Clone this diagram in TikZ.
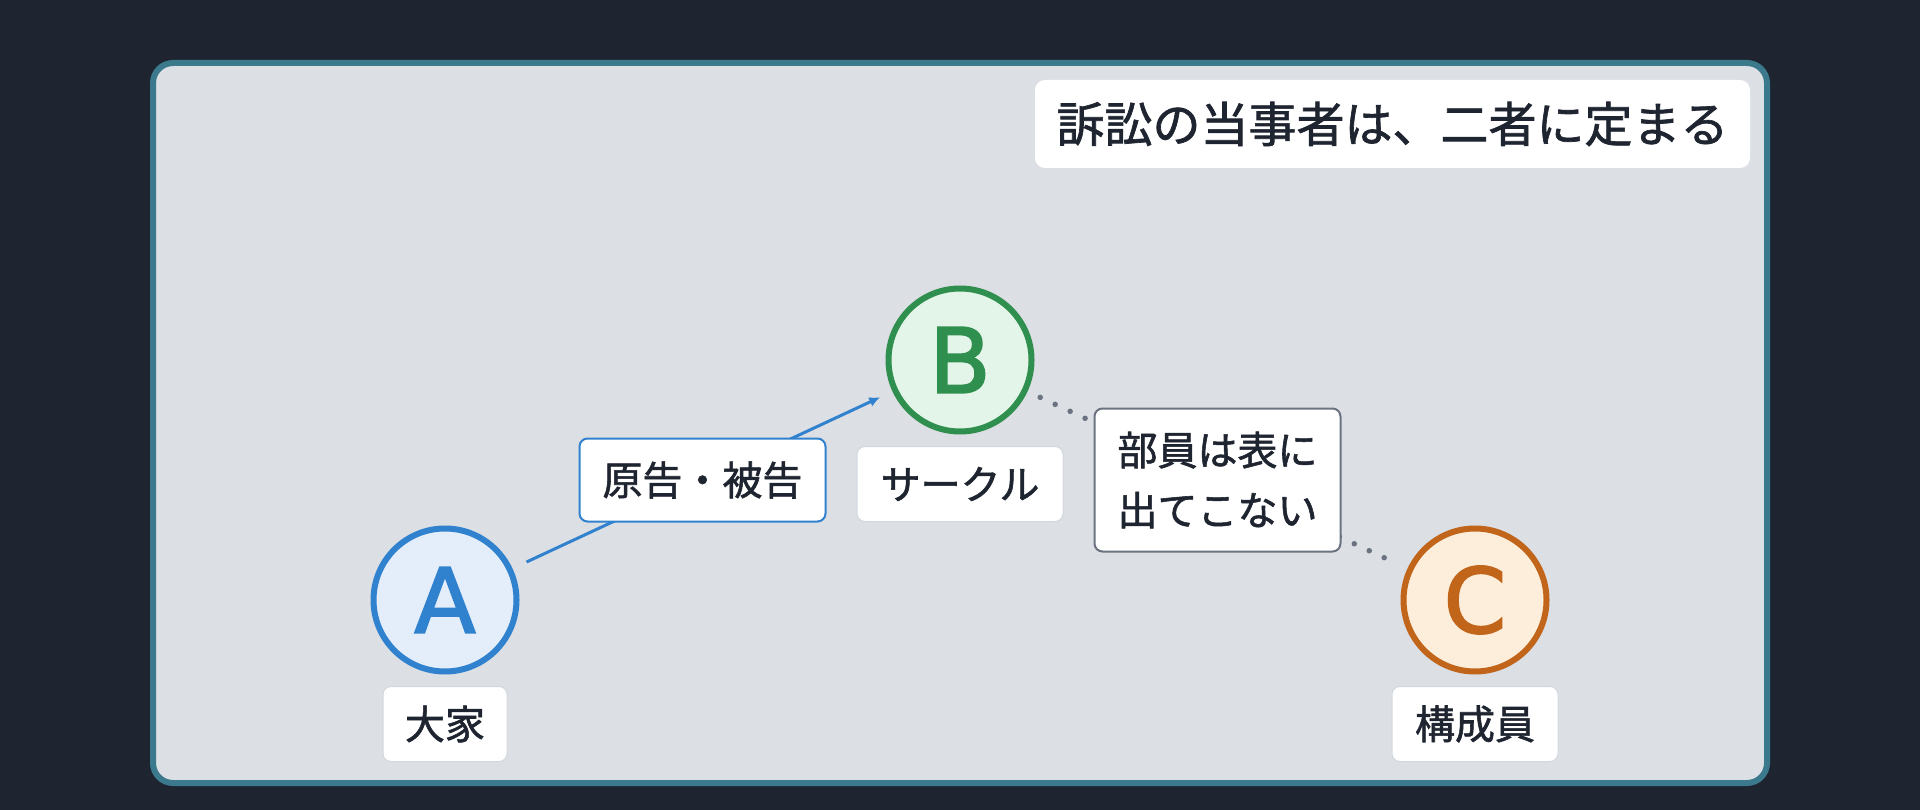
\documentclass[tikz,border=0pt]{standalone}
\usepackage{fontspec}
\setmainfont{Noto Sans CJK JP}[FakeBold=1.4]
\newfontfamily\letterfont{DejaVu Sans}[FakeBold=2]
\usetikzlibrary{arrows.meta}
\definecolor{bgc}{HTML}{1E2430}
\definecolor{framec}{HTML}{3B7A8C}
\definecolor{panelc}{HTML}{DCDFE4}
\definecolor{inkc}{HTML}{1F2530}
\definecolor{ablue}{HTML}{3182CE}
\definecolor{afill}{HTML}{E3EEFA}
\definecolor{bgreen}{HTML}{2F8F4E}
\definecolor{bfill}{HTML}{E3F5E9}
\definecolor{corange}{HTML}{C0651A}
\definecolor{cfill}{HTML}{FDEEDC}
\definecolor{dotc}{HTML}{6B7280}
\definecolor{lightb}{HTML}{D3D8DF}
\tikzset{
  framebox/.style={draw=framec, fill=panelc, line width=6pt, rounded corners=20pt},
  circ/.style={circle, minimum size=143pt, inner sep=0pt, line width=6pt,
    font=\fontsize{90pt}{90pt}\letterfont\selectfont},
  textfont/.style={font=\fontsize{40pt}{60pt}\selectfont, text=inkc},
  titlebox/.style={fill=white, rounded corners=10pt, minimum width=715pt, minimum height=88pt,
    inner sep=0pt, font=\fontsize{48pt}{56pt}\selectfont, text=inkc},
  namebox/.style={textfont, fill=white, draw=lightb, line width=1pt, rounded corners=8pt,
    minimum height=75pt, inner sep=0pt},
  edgebox/.style={textfont, fill=white, draw=ablue, line width=2pt, rounded corners=8pt,
    minimum width=246pt, minimum height=83pt, inner sep=0pt},
  notebox/.style={textfont, fill=white, draw=dotc, solid, line cap=butt, line width=2pt,
    rounded corners=8pt, minimum width=246pt, minimum height=143pt, inner sep=0pt, align=center},
  rel/.style={draw=ablue, line width=3pt, -{Latex[length=11pt,width=10pt]},
    shorten <=15.5pt, shorten >=13.5pt},
  dotrel/.style={draw=dotc, line width=5.5pt, line cap=round, dash pattern=on 0pt off 16.5pt,
    shorten <=14pt, shorten >=16pt}
}
\begin{document}
\begin{tikzpicture}[x=1pt,y=-1pt]
\useasboundingbox (0,0) rectangle (1920,810);
\fill[bgc] (0,0) rectangle (1920,810);
\draw[framebox] (153,63) rectangle (1767,783);

\node[titlebox] (title) at (1392.5,124) {訴訟の当事者は、二者に定まる};

\node[circ, draw=ablue, fill=afill, text=ablue] (A) at (445,600) {A};
\node[circ, draw=bgreen, fill=bfill, text=bgreen] (B) at (960,360) {B};
\node[circ, draw=corange, fill=cfill, text=corange] (C) at (1475,600) {C};

\node[namebox, minimum width=124pt] (lA) at (445,724) {大家};
\node[namebox, minimum width=206pt] (lB) at (960,484) {サークル};
\node[namebox, minimum width=166pt] (lC) at (1475,724) {構成員};

\draw[rel] (A) -- (B) node[midway, edgebox] (e1) {原告・被告};
\draw[dotrel] (B) -- (C) node[midway, notebox] (e2) {部員は表に\\出てこない};
\end{tikzpicture}
\end{document}
